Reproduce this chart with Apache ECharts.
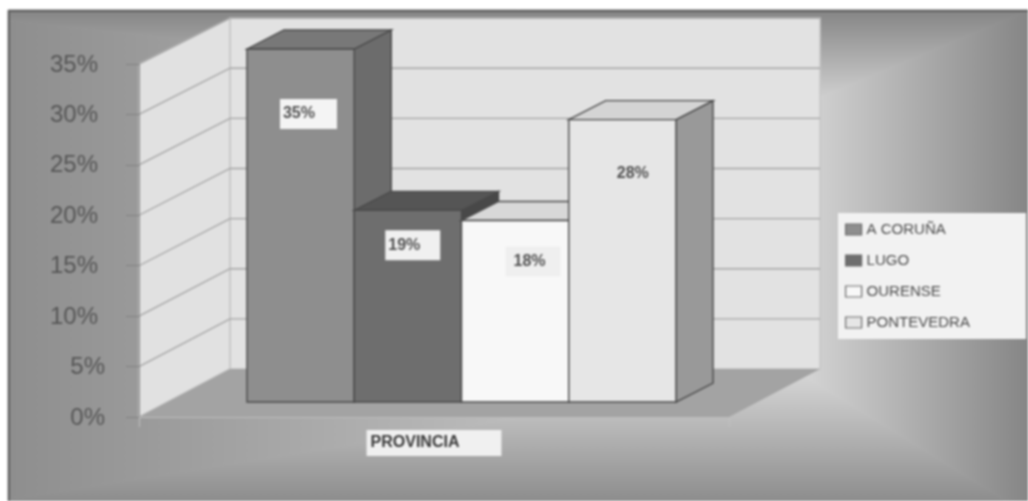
<!DOCTYPE html>
<html>
<head>
<meta charset="utf-8">
<style>
html,body{margin:0;padding:0;background:#fff;overflow:hidden}
#chart{width:1028px;height:501px;filter:blur(0.8px)}
</style>
<script src="https://cdn.jsdelivr.net/npm/echarts@6/dist/echarts.min.js"></script>
</head>
<body>
<div id="chart"></div>
<script>
// ---- data ----
const categories = ['PROVINCIA'];
const provinces = ['A CORUÑA', 'LUGO', 'OURENSE', 'PONTEVEDRA'];
const coruna = [35];
const lugo = [19];
const ourense = [18];
const pontevedra = [28];
const gridValues = [5, 10, 15, 20, 25, 30, 35];
const axisMax = 35, axisStep = 5;

// ---- style ----
const values = [coruna, lugo, ourense, pontevedra];
const looks = [
  {front:'#8e8e8e', side:'#6c6c6c', top:'#787878', labelBg:'#f4f4f4', labelDown:65, labelLeft:33, labelPad:[8, 22, 6, 3]},
  {front:'#6e6e6e', side:'#484848', top:'#555555', labelBg:'#f0f0f0', labelDown:35, labelLeft:31, labelPad:[8, 20, 6, 3]},
  {front:'#f8f8f8', side:'#999999', top:'#d8d8d8', labelBg:'#efefef', labelDown:41, labelLeft:44, labelPad:[8, 15, 6, 8]},
  {front:'#e6e6e6', side:'#999999', top:'#d4d4d4', labelBg:'#e6e6e6', labelDown:54, labelLeft:45, labelPad:[8, 15, 6, 3]}
];
const edge = '#4a4a4a';
const wallDepth = [91, -48];
const backScale = 0.994;
const barShift = [27.5, -15];
const barDepth = [37, -19];
const barShare = 0.1818;
const font = '"Liberation Sans", Arial, sans-serif';

function poly(pts, fill, stroke, w) {
  return {type:'polygon', shape:{points:pts}, style:{fill:fill, stroke:stroke||null, lineWidth:w||0}};
}
function add(p, d){ return [p[0]+d[0], p[1]+d[1]]; }

function renderWalls(params, api) {
  const cs = params.coordSys;
  const y = api.coord([0, api.value(1)])[1];
  const bottom = api.coord([0, 0])[1], top = api.coord([0, axisMax])[1];
  const left = cs.x, right = cs.x + cs.width;
  const backY = yy => bottom + wallDepth[1] + (yy - bottom) * backScale;
  const backX = left + wallDepth[0], backR = right + wallDepth[0];
  const kids = [];
  if (params.dataIndex === 0) {
    const a = [left, bottom], b = [left, top], c = [backX, backY(bottom)], d = [backX, backY(top)];
    const e = [right, bottom], g = [backR, backY(bottom)];
    kids.push(poly([c, d, [backR, backY(top)], g], '#e2e2e2', '#c6c6c6', 1.5));
    kids.push(poly([a, b, d, c], '#e1e1e1', '#c4c4c4', 1.5));
    kids.push(poly([a, c, g, e], '#a3a3a3'));
  }
  kids.push({type:'polyline', shape:{points:[[left, y], [backX, backY(y)], [backR, backY(y)]]},
    style:{fill:null, stroke:'#a4a4a4', lineWidth:1.3}});
  return {type:'group', children:kids};
}

function barRenderer(idx) {
  return function (params, api) {
    const look = looks[idx];
    const v = api.value(1);
    const c = api.coord([0, v]);
    const o = api.coord([0, 0]);
    const w = api.size([1, 0])[0] * barShare;
    const x0 = c[0] + barShift[0] + (idx - 2) * w;
    const tl = [x0, c[1] + barShift[1]], tr = [x0 + w, tl[1]];
    const bl = [x0, o[1] + barShift[1]], br = [x0 + w, bl[1]];
    const tl2 = add(tl, barDepth), tr2 = add(tr, barDepth), br2 = add(br, barDepth);
    return {type:'group', children:[
      poly([tr, tr2, br2, br], look.side, edge, 1.4),
      poly([tl, tl2, tr2, tr], look.top, edge, 1.4),
      poly([tl, tr, br, bl], look.front, edge, 1.4),
      {type:'text', z2:10, style:{
        text: v + '%',
        x: x0 + look.labelLeft, y: tl[1] + look.labelDown,
        align:'left', verticalAlign:'middle',
        font:'bold 16px ' + font, fill:'#505050',
        backgroundColor: look.labelBg, padding: look.labelPad
      }}
    ]};
  };
}

// background regions: piecewise-linear rectangular path gradient
function linear(x, y, x2, y2, a, b) {
  return {type:'linear', x:x, y:y, x2:x2, y2:y2, global:true, colorStops:[{offset:0, color:a},{offset:1, color:b}]};
}
const L=8, T=10, R=1030, B=503, PX=800, PT=106, PB=373, LT=20.7, LB=499.5, BR=1010;
const fills = {
  left: linear(L,0,PX,0,'#8e8e8e','#d6d6d6'),
  right: linear(PX,0,R,0,'#d6d6d6','#858585'),
  top: linear(0,T,0,PT,'#858585','#d6d6d6'),
  bottom: linear(0,B,0,PB,'#8c8c8c','#d6d6d6')
};
function bgPoly(pts, f){ return {type:'polygon', z:-9, silent:true, shape:{points:pts}, style:{fill:f, stroke:f, lineWidth:1}}; }
const bg = [
  bgPoly([[L,LT],[PX,PT],[PX,PB],[L,LB]], fills.left),
  bgPoly([[PX,PT],[R,T],[R,B],[BR,B],[PX,PB]], fills.right),
  bgPoly([[L,T],[R,T],[PX,PT],[L,LT]], fills.top),
  bgPoly([[L,LB],[PX,PB],[BR,B],[L,B]], fills.bottom),
  {type:'rect', z:-7, silent:true, shape:{x:L+1, y:T+1, width:R-L, height:B-T}, style:{fill:null, stroke:'#5e5e5e', lineWidth:2}}
];

const series = [{
  type:'custom', name:'walls', z:1, silent:true, clip:false,
  renderItem: renderWalls,
  data: gridValues.map(v => [0, v])
}];
provinces.forEach((name, i) => {
  series.push({
    type:'custom', name:name, z:2 + i, clip:false, silent:true,
    renderItem: barRenderer(i),
    itemStyle:{color:looks[i].front},
    data: values[i].map(v => [0, v])
  });
});

const chart = echarts.init(document.getElementById('chart'), null, {renderer:'canvas'});
chart.setOption({
  animation:false,
  backgroundColor:'#ffffff',
  graphic: bg,
  grid:{left:139, top:64, width:590, height:353, containLabel:false},
  xAxis:{
    type:'category', data:categories, z:7,
    axisLine:{lineStyle:{color:'#bdbdbd', width:1}},
    axisTick:{show:true, length:10, lineStyle:{color:'#c0c0c0'}},
    axisLabel:{
      margin:13, color:'#383838',
      fontWeight:'bold', fontSize:16, fontFamily:font,
      backgroundColor:'#f0f0f0', padding:[5, 42, 5, 4]
    }
  },
  yAxis:{
    type:'value', min:0, max:axisMax, interval:axisStep, z:7,
    axisLine:{show:true, lineStyle:{color:'#8a8a8a', width:1}},
    axisTick:{show:true, length:13, lineStyle:{color:'#808080'}},
    splitLine:{show:false},
    axisLabel:{
      margin:34,
      formatter:function(v){ return v < 10 ? '{n|' + v + '%}' : '{w|' + v + '%}'; },
      rich:{
        n:{fontSize:24, color:'#555555', fontFamily:font, padding:[2,0,0,0]},
        w:{fontSize:24, color:'#555555', fontFamily:font, padding:[2,7,0,0]}
      }
    }
  },
  legend:{
    orient:'vertical', left:838, top:213,
    data: provinces.map((n, i) => ({name:n, icon:'rect', itemStyle:{color:looks[i].front, borderColor:'#6a6a6a', borderWidth:1.2}})),
    backgroundColor:'#f2f2f2',
    padding:[9, 56, 9, 7],
    itemWidth:16, itemHeight:11, itemGap:16,
    textStyle:{color:'#4a4a4a', fontSize:15, fontFamily:font},
    selectedMode:false
  },
  series: series
});
</script>
</body>
</html>
